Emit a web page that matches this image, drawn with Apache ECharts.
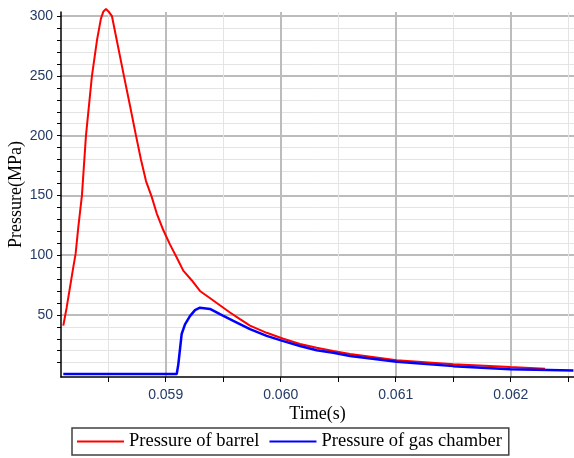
<!DOCTYPE html>
<html>
<head>
    <meta charset="UTF-8">
    <title>Pressure</title>
    <script src="https://cdn.jsdelivr.net/npm/echarts@6/dist/echarts.min.js"></script>
    <style>
        html, body { margin: 0; padding: 0; background: #fff; }
        #main { width: 574px; height: 458px; }
    </style>
</head>
<body>
<div id="main"></div>
<script type="text/javascript">
    // barrel pressure (MPa) against time (s)
    var barrelTime = [0.05811, 0.058139, 0.058168, 0.058197, 0.058217, 0.05824, 0.058272, 0.058307, 0.058359,
        0.058403, 0.058437, 0.058459, 0.058481, 0.058503, 0.058533, 0.058585, 0.058637, 0.05869, 0.058742,
        0.058785, 0.058829, 0.058878, 0.058922, 0.058979, 0.059037, 0.059096, 0.059153, 0.059226, 0.059298, 0.059414,
        0.059559, 0.059646, 0.059733, 0.059878, 0.060023, 0.060168, 0.060313, 0.060457, 0.060603, 0.061009,
        0.061501, 0.061994, 0.062298];
    var barrelPressure = [41, 56, 73, 90, 101, 123, 150, 200, 250,
        280, 298, 304, 306, 304, 300, 275, 250, 225, 200,
        180, 162, 149, 135, 121, 109, 98, 87, 79, 70, 62,
        52, 46.4, 41, 35, 30, 25.6, 22.5, 19.7, 17.2, 12,
        8.6, 6.3, 5];

    // gas chamber pressure (MPa) against time (s)
    var chamberTime = [0.05811, 0.059096, 0.05911, 0.059139, 0.059168, 0.059211, 0.059255, 0.059298, 0.059385,
        0.059472, 0.059588, 0.059733, 0.059878, 0.060023, 0.060168, 0.060313, 0.060457, 0.060603, 0.061009,
        0.061501, 0.061994, 0.062545];
    var chamberPressure = [0.5, 0.5, 8.6, 34, 42, 49, 54, 56, 55,
        50.6, 45, 38, 32.4, 28, 24, 20.4, 18.3, 15.5, 10.8,
        7.1, 4.4, 3.5];

    var seriesNames = ['Pressure of barrel', 'Pressure of gas chamber'];

    // ticks and grid lines
    var xMinorTicks = [0.0585, 0.059, 0.0595, 0.060, 0.0605, 0.061, 0.0615, 0.062, 0.0625];
    var xMajorTicks = [0.059, 0.060, 0.061, 0.062];
    var yMinorTicks = [10, 20, 30, 40, 50, 60, 70, 80, 90, 100, 110, 120, 130, 140, 150,
        160, 170, 180, 190, 200, 210, 220, 230, 240, 250, 260, 270, 280, 290, 300];
    var yMajorTicks = [50, 100, 150, 200, 250, 300];

    function pairs(xs, ys) {
        var out = [];
        for (var i = 0; i < xs.length; i++) {
            out.push([xs[i], ys[i]]);
        }
        return out;
    }

    var xMin = 0.05809, xMax = 0.06255;
    var yMin = -2, yMax = 303.5;
    var labelFont = {fontFamily: 'Liberation Sans', fontSize: 14, color: '#233a66'};
    var serifFont = {fontFamily: 'Liberation Serif', fontSize: 18, color: '#000'};
    var legendFont = {fontFamily: 'Liberation Serif', fontSize: 18.5, color: '#000'};

    var myChart = echarts.init(document.getElementById('main'), null, {renderer: 'canvas'});

    var option = {
        animation: false,
        backgroundColor: '#fff',
        grid: {left: 61, right: 0, top: 12, bottom: 81, containLabel: false, outerBoundsMode: 'none'},
        legend: {
            data: seriesNames,
            left: 72,
            top: 428,
            icon: 'rect',
            itemWidth: 47,
            itemHeight: 2,
            itemGap: 10,
            padding: [4, 7, 4, 5],
            borderColor: '#404040',
            borderWidth: 1.5,
            textStyle: legendFont
        },
        xAxis: [
            {
                type: 'value',
                min: xMin,
                max: xMax,
                name: 'Time(s)',
                nameLocation: 'middle',
                nameGap: 28,
                nameMoveOverlap: false,
                nameTextStyle: serifFont,
                axisLine: {show: true, onZero: false, lineStyle: {color: '#000', width: 1.5}},
                axisTick: {show: true, length: 5, customValues: xMinorTicks, lineStyle: {color: '#000'}},
                axisLabel: {
                    customValues: xMajorTicks,
                    margin: 11,
                    fontFamily: labelFont.fontFamily,
                    fontSize: labelFont.fontSize,
                    color: labelFont.color,
                    formatter: function (v) { return v.toFixed(3); }
                },
                splitLine: {show: true, lineStyle: {color: '#e4e4e4', width: 1}}
            },
            {
                // darker grid lines at the labelled values
                type: 'value',
                min: xMin,
                max: xMax,
                axisLine: {show: false},
                axisTick: {show: false, customValues: xMajorTicks},
                axisLabel: {show: false, customValues: xMajorTicks},
                splitLine: {show: true, lineStyle: {color: '#bcbcbc', width: 2}}
            }
        ],
        yAxis: [
            {
                type: 'value',
                min: yMin,
                max: yMax,
                name: 'Pressure(MPa)',
                nameLocation: 'middle',
                nameGap: 36,
                nameMoveOverlap: false,
                nameTextStyle: serifFont,
                axisLine: {show: true, onZero: false, lineStyle: {color: '#000', width: 1.5}},
                axisTick: {show: true, length: 4, customValues: yMinorTicks, lineStyle: {color: '#000'}},
                axisLabel: {
                    customValues: yMajorTicks,
                    margin: 8,
                    fontFamily: labelFont.fontFamily,
                    fontSize: labelFont.fontSize,
                    color: labelFont.color
                },
                splitLine: {show: true, lineStyle: {color: '#e4e4e4', width: 1}}
            },
            {
                type: 'value',
                min: yMin,
                max: yMax,
                axisLine: {show: false},
                axisTick: {show: false, customValues: yMajorTicks},
                axisLabel: {show: false, customValues: yMajorTicks},
                splitLine: {show: true, lineStyle: {color: '#bcbcbc', width: 2}}
            }
        ],
        series: [
            {
                name: seriesNames[0],
                type: 'line',
                showSymbol: false,
                symbol: 'none',
                clip: false,
                color: '#ff0000',
                lineStyle: {color: '#ff0000', width: 2},
                data: pairs(barrelTime, barrelPressure),
                z: 3
            },
            {
                name: seriesNames[1],
                type: 'line',
                showSymbol: false,
                symbol: 'none',
                color: '#0000ff',
                lineStyle: {color: '#0000ff', width: 2.5},
                data: pairs(chamberTime, chamberPressure),
                z: 4
            }
        ]
    };
    myChart.setOption(option);
</script>
</body>
</html>
